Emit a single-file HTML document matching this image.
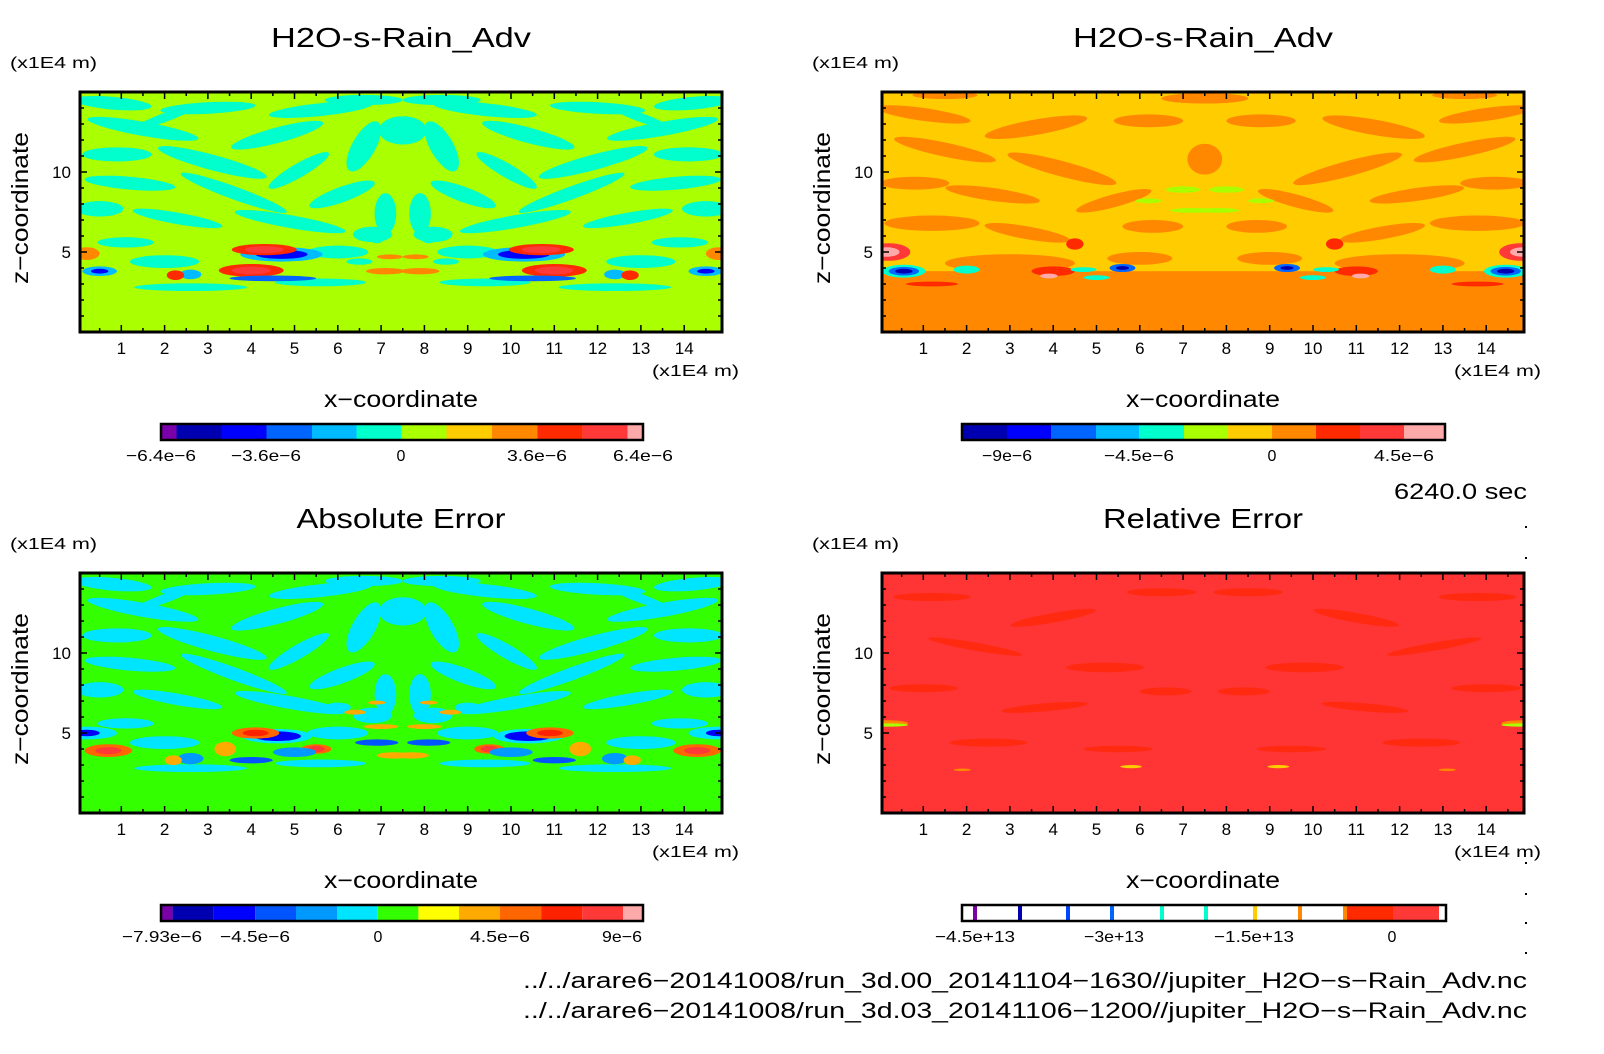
<!DOCTYPE html>
<html><head><meta charset="utf-8"><style>
html,body{margin:0;padding:0;background:#fff;}
svg{display:block;font-family:"Liberation Sans",sans-serif;}
</style></head><body>
<svg id="fig" width="1604" height="1054" viewBox="0 0 1604 1054" xmlns="http://www.w3.org/2000/svg"></svg>
<script>
// ---------- data ----------
const xTicks = [1,2,3,4,5,6,7,8,9,10,11,12,13,14];
const zTicks = [5,10];
const panelTitles = ["H2O-s-Rain_Adv","H2O-s-Rain_Adv","Absolute Error","Relative Error"];
const titleWidths = [260,260,209,200];
const cbar1Colors = ["#7a00aa","#0000b0","#0000ff","#0066ff","#00bbff","#00ffcc","#aaff00","#ffcc00","#ff8800","#ff2a00","#ff3838","#ffaaaa"];
const cbar1Labels = ["-6.4e-6","-3.6e-6","0","3.6e-6","6.4e-6"];
const cbar2Colors = ["#0000b0","#0000ff","#0066ff","#00bbff","#00ffcc","#aaff00","#ffcc00","#ff8800","#ff2a00","#ff3838","#ffaaaa"];
const cbar2Labels = ["-9e-6","-4.5e-6","0","4.5e-6"];
const cbar3Colors = ["#7a00aa","#0000b0","#0000ff","#0055ff","#0099ff","#00e5ff","#33ff00","#ffff00","#ffaa00","#ff6600","#ff2200","#ff3838","#ffaaaa"];
const cbar3Labels = ["-7.93e-6","-4.5e-6","0","4.5e-6","9e-6"];
const cbar4LineColors = ["#7a00aa","#0000b0","#0044ff","#0066ff","#00ffcc","#00ffcc","#ffcc00","#ff8800","#ff8800"];
const cbar4Labels = ["-4.5e+13","-3e+13","-1.5e+13","0"];
// streaks (left half, mirrored): [x, z, length, thickness, angle]
const streaksA = [[0.8,14.3,1.8,0.5,-5],[3.0,14.0,2.2,0.45,3],[5.6,13.9,2.4,0.5,6],[1.5,12.7,2.6,0.55,-10],[4.6,12.3,2.2,0.6,15],[6.6,11.6,1.3,0.9,60],[0.9,11.1,1.6,0.55,0],[3.1,10.6,2.6,0.6,-15],[5.1,10.1,1.6,0.55,30],[1.2,9.3,2.1,0.5,-5],[3.6,8.7,2.6,0.5,-20],[6.1,8.6,1.6,0.6,20],[0.5,7.7,1.1,0.6,0],[2.3,7.1,2.1,0.45,-10],[4.9,6.9,2.6,0.5,-10],[7.1,7.4,0.5,1.6,0],[1.1,5.6,1.3,0.4,0],[2.6,2.8,2.6,0.3,0],[5.6,3.1,2.1,0.3,0],[6.8,6.1,0.9,0.6,0],[7.5,12.6,1.1,1.1,0],[2.0,13.4,1.5,0.35,20],[6.6,14.5,1.8,0.4,0],[2.0,4.4,1.6,0.5,0],[6.0,5.0,1.4,0.5,0]];
const streaksB = [[1.0,13.6,2.2,0.5,-8],[3.6,12.8,2.4,0.6,10],[6.2,13.2,1.6,0.5,0],[1.5,11.4,2.4,0.55,-12],[4.2,10.2,2.6,0.6,-15],[0.8,9.3,1.6,0.5,0],[2.6,8.6,2.2,0.5,-8],[5.4,8.2,1.8,0.5,15],[1.2,6.8,2.2,0.6,0],[3.4,6.2,2.0,0.5,-10],[6.3,6.6,1.4,0.5,0],[3.0,4.3,3.0,0.7,0],[6.0,4.6,1.5,0.5,0],[7.5,10.8,0.8,1.2,0],[7.5,14.6,2.0,0.4,0],[1.5,14.8,1.5,0.3,0]];
const mottleD = [[1.2,13.5,1.8,0.5,0],[4.0,12.2,2.0,0.6,10],[6.5,13.8,1.6,0.5,0],[2.2,10.4,2.2,0.5,-10],[5.2,9.1,1.8,0.6,0],[1.0,7.8,1.6,0.5,0],[3.8,6.6,2.0,0.5,5],[6.6,7.6,1.2,0.5,0],[2.5,4.4,1.8,0.5,0],[5.5,4.0,1.6,0.4,0]];
// blobs (left half, mirrored): [x, z, rx, rz, colourIndex]
const blobsA = [[4.7,4.85,0.95,0.45,3],[4.7,4.85,0.6,0.28,1],[4.3,5.15,0.75,0.35,8],[4.3,5.15,0.45,0.22,9],[4.0,3.85,0.75,0.4,8],[4.0,3.85,0.45,0.25,9],[4.5,3.35,1.0,0.18,2],[0.5,3.8,0.4,0.3,3],[0.5,3.8,0.2,0.15,1],[0.2,4.9,0.3,0.4,7],[2.6,3.6,0.25,0.3,3],[2.25,3.55,0.2,0.3,8],[7.2,4.7,0.3,0.15,7],[7.1,3.8,0.45,0.2,7],[6.9,6.0,0.2,0.45,4],[6.5,4.4,0.3,0.2,4]];
const blobsB = [[0.2,5.0,0.5,0.55,9],[0.15,5.0,0.3,0.3,10],[0.55,3.8,0.5,0.4,4],[0.55,3.8,0.35,0.27,2],[0.55,3.8,0.2,0.15,0],[1.2,3.0,0.6,0.15,8],[4.5,5.5,0.2,0.35,8],[4.0,3.8,0.5,0.3,8],[3.9,3.5,0.2,0.15,10],[4.7,3.9,0.3,0.15,4],[5.6,4.0,0.3,0.25,2],[5.6,4.0,0.15,0.12,0],[5.0,3.4,0.3,0.15,4],[2.0,3.9,0.3,0.25,4],[7.0,8.9,0.4,0.2,5],[6.2,8.2,0.3,0.15,5],[7.2,7.6,0.5,0.15,5]];
const blobsC = [[4.6,4.8,0.8,0.45,4],[4.6,4.8,0.55,0.3,1],[4.1,5.0,0.55,0.35,8],[4.1,5.0,0.3,0.2,9],[0.7,3.9,0.55,0.4,8],[0.7,3.9,0.3,0.22,10],[0.2,5.0,0.7,0.4,4],[0.2,5.0,0.3,0.2,1],[5.5,4.0,0.35,0.3,8],[5.5,4.0,0.2,0.2,10],[5.0,3.8,0.5,0.3,3],[4.0,3.3,0.5,0.2,2],[3.4,4.0,0.25,0.45,7],[2.6,3.4,0.3,0.35,3],[2.2,3.3,0.2,0.3,7],[6.9,4.4,0.5,0.2,2],[7.0,5.4,0.4,0.15,7],[6.4,6.3,0.25,0.15,7],[6.9,6.9,0.2,0.12,7],[7.3,3.6,0.4,0.2,7],[6.0,6.6,0.3,0.3,4]];
const blobsD = [[0.15,5.6,0.5,0.2,7],[0.2,5.5,0.45,0.1,5],[1.9,2.7,0.2,0.08,7],[5.8,2.9,0.25,0.1,6]];

// ---------- layout ----------
const svg = document.getElementById('fig');
const NS = "http://www.w3.org/2000/svg";
function el(tag, attrs, parent){const e=document.createElementNS(NS,tag);for(const k in attrs)e.setAttribute(k,attrs[k]);(parent||svg).appendChild(e);return e;}
const panels = [
 {L:80,T:92,W:642,H:240},{L:882,T:92,W:642,H:240},{L:80,T:573,W:642,H:240},{L:882,T:573,W:642,H:240}];
function xs(p,v){return p.L-2+v*43.3;}
function zs(p,v){return p.T+p.H-v*16;}
const THICK=1.6;

function drawStreaks(g,p,arr,color,thick){
  arr.forEach(s=>{
    [s[0],15-s[0]].forEach((xx,i)=>{
      const cx=xs(p,xx), cy=zs(p,s[1]);
      const ang = i===0? -s[4] : s[4];
      const e=el('ellipse',{cx:cx,cy:cy,rx:s[2]*43.3/2,ry:s[3]*16/2*thick,fill:color,transform:`rotate(${ang} ${cx} ${cy})`},g);
      
      
    });
  });
}
function drawBlobs(g,p,arr,colors){
  arr.forEach(b=>{
    [b[0],15-b[0]].forEach(xx=>{
      const e=el('ellipse',{cx:xs(p,xx),cy:zs(p,b[1]),rx:b[2]*43.3,ry:b[3]*16,fill:colors[b[4]]},g);
      
      
    });
  });
}
function fitText(t,w){t.setAttribute('textLength',w);t.setAttribute('lengthAdjust','spacingAndGlyphs');}

function drawPanel(i){
  const p=panels[i];
  const g=el('g',{},svg);
  
  
  el('clipPath',{id:'clip'+i},g);
  el('rect',{x:p.L,y:p.T,width:p.W,height:p.H},g.lastChild);
  const f=el('g',{'clip-path':`url(#clip${i})`},g);
  
  
  if(i===0){
    el('rect',{x:p.L,y:p.T,width:p.W,height:p.H,fill:'#aaff00'},f);
    drawStreaks(f,p,streaksA,'#00ffcc',THICK);
    drawBlobs(f,p,blobsA,cbar1Colors.slice(1));
  }else if(i===1){
    el('rect',{x:p.L,y:p.T,width:p.W,height:p.H,fill:'#ff8800'},f);
    el('rect',{x:p.L,y:p.T,width:p.W,height:zs(p,3.8)-p.T,fill:'#ffcc00'},f);
    drawStreaks(f,p,streaksB,'#ff8800',THICK);
    drawBlobs(f,p,blobsB,cbar2Colors);
  }else if(i===2){
    el('rect',{x:p.L,y:p.T,width:p.W,height:p.H,fill:'#33ff00'},f);
    drawStreaks(f,p,streaksA,'#00e5ff',THICK);
    drawBlobs(f,p,blobsC,cbar3Colors.slice(1));
  }else{
    el('rect',{x:p.L,y:p.T,width:p.W,height:p.H,fill:'#ff3434'},f);
    drawStreaks(f,p,mottleD,'#ff2a10',1);
    drawBlobs(f,p,blobsD,cbar2Colors);
  }
  const fr=el('rect',{x:p.L,y:p.T,width:p.W,height:p.H,fill:'none',stroke:'#000','stroke-width':3},g);
  
  
  for(let v=0.5; v<15; v+=0.5){
    const X=xs(p,v); if(X<=p.L+1||X>=p.L+p.W-1) continue;
    const len = (v%1===0)?7:4;
    el('line',{x1:X,y1:p.T+p.H,x2:X,y2:p.T+p.H-len,stroke:'#000','stroke-width':1.5},g);
    el('line',{x1:X,y1:p.T,x2:X,y2:p.T+len,stroke:'#000','stroke-width':1.5},g);
  }
  for(let v=1; v<15; v++){
    const Y=zs(p,v); const len=(v%5===0)?7:4;
    el('line',{x1:p.L,y1:Y,x2:p.L+len,y2:Y,stroke:'#000','stroke-width':1.5},g);
    el('line',{x1:p.L+p.W,y1:Y,x2:p.L+p.W-len,y2:Y,stroke:'#000','stroke-width':1.5},g);
  }
  xTicks.forEach(v=>{
    const t=el('text',{x:xs(p,v),y:p.T+p.H+22,'text-anchor':'middle','font-size':17},g);
    t.textContent=v;
    
    
  });
  zTicks.forEach(v=>{
    const t=el('text',{x:p.L-9,y:zs(p,v)+6,'text-anchor':'end','font-size':17},g);
    t.textContent=v;
    
    
  });
  const ttl=el('text',{x:p.L+p.W/2,y:p.T-45,'text-anchor':'middle','font-size':28},g);
  ttl.textContent=panelTitles[i];
  fitText(ttl,titleWidths[i]);
  
  
  const uz=el('text',{x:p.L-70,y:p.T-24,'font-size':16},g);
  uz.textContent='(x1E4 m)';
  fitText(uz,87);
  
  
  const ux=el('text',{x:p.L+p.W+17-87,y:p.T+p.H+44,'font-size':16},g);
  ux.textContent='(x1E4 m)';
  fitText(ux,87);
  
  
  const xt=el('text',{x:p.L+p.W/2,y:p.T+p.H+75,'text-anchor':'middle','font-size':23},g);
  xt.textContent='x\u2212coordinate';
  fitText(xt,154);
  
  
  const cx=p.L-52, cy=p.T+p.H/2-4;
  const yt=el('text',{x:cx,y:cy,'text-anchor':'middle','font-size':23,transform:`rotate(-90 ${cx} ${cy})`},g);
  yt.textContent='z\u2212coordinate';
  fitText(yt,152);
  
  
}
[0,1,2,3].forEach(drawPanel);

// ---------- colorbars ----------
function lblWidth(s){return s.length*10;}
function drawCbar(name,y,bounds,colors,labels,labelX){
  const g=el('g',{},svg);
  
  
  colors.forEach((c,k)=>{
    const r=el('rect',{x:bounds[k],y:y,width:bounds[k+1]-bounds[k],height:16,fill:c},g);
    
    
  });
  el('rect',{x:bounds[0],y:y,width:bounds[bounds.length-1]-bounds[0],height:16,fill:'none',stroke:'#000','stroke-width':2.5},g);
  labels.forEach((s,k)=>{
    const t=el('text',{x:labelX[k],y:y+37,'text-anchor':'middle','font-size':16},g);
    t.textContent=s.replace(/-/g,'\u2212');
    if(s.length>1) fitText(t,lblWidth(s));
    
    
  });
}
drawCbar('colorbar-1',424,[161,176.5,221.5,266.5,312,356.5,401.5,446.5,492,537.5,582.6,627.6,643],cbar1Colors,cbar1Labels,[161,266,401,537,643]);
drawCbar('colorbar-2',424,[962,1007,1051,1096,1139,1184,1228,1272,1316,1360,1404,1445],cbar2Colors,cbar2Labels,[1007,1139,1272,1404]);
drawCbar('colorbar-3',905,[161,172.6,213.8,255.3,296,337,377.7,418.4,459,500,541.5,582.3,623,643],cbar3Colors,cbar3Labels,[162,255,378,500,622]);
(function(){
  const g=el('g',{},svg);
  
  
  const y=905;
  el('rect',{x:962,y:y,width:484,height:16,fill:'#fff'},g);
  const lx=[975,1020,1068,1112,1162,1206,1255,1300,1345];
  cbar4LineColors.forEach((c,k)=>{el('rect',{x:lx[k]-2,y:y,width:4,height:16,fill:c},g);});
  el('rect',{x:1347,y:y,width:46,height:16,fill:'#ff2a00'},g);
  el('rect',{x:1393,y:y,width:46,height:16,fill:'#ff3838'},g);
  el('rect',{x:962,y:y,width:484,height:16,fill:'none',stroke:'#000','stroke-width':2.5},g);
  const lp=[975,1114,1254,1392];
  cbar4Labels.forEach((s,k)=>{
    const t=el('text',{x:lp[k],y:y+37,'text-anchor':'middle','font-size':16},g);
    t.textContent=s.replace(/-/g,'\u2212');
    if(s.length>1) fitText(t,lblWidth(s));
    
    
  });
})();

// ---------- annotations ----------
function txt(name,x,y,s,size,w){
  const t=el('text',{x:x,y:y,'font-size':size});
  t.textContent=s;
  fitText(t,w);
  
  
}
txt('time-label',1394,499,'6240.0 sec',22,133);
txt('file-path-1',523,988,'../../arare6\u221220141008/run_3d.00_20141104\u22121630//jupiter_H2O\u2212s\u2212Rain_Adv.nc',22,1004);
txt('file-path-2',523,1018,'../../arare6\u221220141008/run_3d.03_20141106\u22121200//jupiter_H2O\u2212s\u2212Rain_Adv.nc',22,1004);
[526,557,862,893,922,952].forEach(y=>{el('rect',{x:1525,y:y,width:2,height:2,fill:'#000'});});
</script>
</body></html>
